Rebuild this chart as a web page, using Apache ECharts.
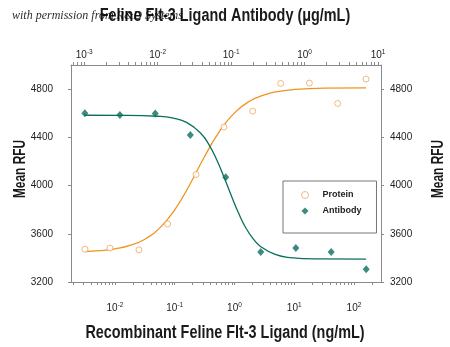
<!DOCTYPE html>
<html><head><meta charset="utf-8">
<script src="https://cdn.jsdelivr.net/npm/echarts@6/dist/echarts.min.js"></script>
<style>html,body{margin:0;padding:0;background:#fff}#c{width:450px;height:347px}</style>
</head><body><div id="c"></div>
<script>
// ---- data ----
const proteinConc = [0.00315, 0.00824, 0.0252, 0.0762, 0.227, 0.667, 2.02, 5.93, 17.9, 53.3, 159]; // ng/mL
const proteinRFU  = [3472, 3481, 3467, 3681, 4092, 4486, 4617, 4847, 4850, 4681, 4883];
const antibodyConc = [0.00102, 0.00306, 0.00927, 0.0278, 0.0844, 0.253, 0.759, 2.30, 6.89]; // µg/mL
const antibodyRFU  = [4600, 4586, 4597, 4419, 4069, 3448, 3483, 3448, 3306];
// fitted curves
const proteinFitConc = [0.00316, 0.00562, 0.01, 0.0178, 0.0316, 0.0562, 0.1, 0.178, 0.316, 0.562, 1, 1.78, 3.16, 5.62, 10, 31.6, 159];
const proteinFitRFU  = [3453, 3460, 3475, 3503, 3555, 3649, 3799, 4007, 4241, 4450, 4603, 4699, 4753, 4782, 4797, 4808, 4811];
const antibodyFitConc = [0.001, 0.00316, 0.01, 0.0158, 0.0251, 0.0398, 0.0501, 0.0631, 0.0794, 0.1, 0.126, 0.158, 0.2, 0.251, 0.398, 0.631, 1.585, 6.89];
const antibodyFitRFU  = [4583, 4582, 4575, 4561, 4522, 4424, 4337, 4219, 4075, 3919, 3772, 3650, 3558, 3495, 3429, 3403, 3391, 3389];
const yTickLabels = [3200, 3600, 4000, 4400, 4800];
const bottomDecades = [-2, -1, 0, 1, 2];
const topDecades = [-3, -2, -1, 0, 1];
const seriesNames = ['Protein', 'Antibody'];
const titleTop = 'Feline Flt-3 Ligand Antibody (μg/mL)';
const titleBottom = 'Recombinant Feline Flt-3 Ligand (ng/mL)';
const titleY = 'Mean RFU';
const credit = 'with permission from R&D Systems';

// ---- chart ----
const FONT = '"Liberation Sans",Arial,sans-serif';
const AXC = '#8a8a8a';
const ORANGE_LINE = '#EE9420';
const ORANGE_PT = '#F0A860';
const TEAL = '#0B6E5F';
const bottomRange = [-2.736, 2.452];
const topRange = [-3.18, 1.04];

function minorTicks(r) {
  const out = [];
  for (let n = Math.floor(r[0]); n <= Math.ceil(r[1]); n++) {
    for (let k = 1; k <= 9; k++) {
      const v = n + Math.log10(k);
      if (v >= r[0] && v <= r[1]) out.push(v);
    }
  }
  return out;
}
const pairs = (xs, ys) => xs.map((x, i) => [Math.log10(x), ys[i]]);

function xAxisCfg(range, decades, position, margin) {
  return {
    type: 'value', position: position, min: range[0], max: range[1],
    splitLine: { show: false },
    axisLine: { onZero: false, lineStyle: { color: AXC, width: 1 } },
    axisTick: { customValues: minorTicks(range), length: 3, inside: false, lineStyle: { color: AXC } },
    axisLabel: {
      customValues: decades, margin: margin, color: '#222',
      formatter: v => '{b|10}{s|' + Math.round(v) + '}',
      rich: {
        b: { fontFamily: FONT, fontSize: 10, color: '#222', lineHeight: 12 },
        s: { fontFamily: FONT, fontSize: 6.5, color: '#222', verticalAlign: 'top', lineHeight: 12, padding: [0, 0, 6, 0] }
      }
    }
  };
}
function yAxisCfg(position, margin) {
  return {
    type: 'value', position: position, min: 3200, max: 5000, interval: 400,
    splitLine: { show: false },
    axisLine: { show: true, onZero: false, lineStyle: { color: AXC, width: 1 } },
    axisTick: { show: true, customValues: yTickLabels, length: 3, lineStyle: { color: AXC } },
    axisLabel: { customValues: yTickLabels, margin: margin, fontFamily: FONT, fontSize: 10, color: '#222',
      formatter: v => String(v) }
  };
}

const chart = echarts.init(document.getElementById('c'), null, { renderer: 'canvas' });
chart.setOption({
  animation: false,
  backgroundColor: '#fff',
  grid: { left: 71, right: 69, top: 65, bottom: 65, containLabel: false },
  xAxis: [xAxisCfg(bottomRange, bottomDecades, 'bottom', 20), xAxisCfg(topRange, topDecades, 'top', 4)],
  yAxis: [yAxisCfg('left', 18), yAxisCfg('right', 9)],
  legend: {
    data: [
      { name: seriesNames[0], icon: 'circle', itemStyle: { color: '#fff', borderColor: ORANGE_PT, borderWidth: 1 } },
      { name: seriesNames[1], icon: 'diamond' }
    ],
    orient: 'vertical', left: 283, top: 181,
    padding: [8, 15, 16, 18], itemGap: 4, itemWidth: 7, itemHeight: 7,
    borderColor: '#777', borderWidth: 1, borderRadius: 0,
    textStyle: { fontFamily: FONT, fontSize: 9, lineHeight: 12, color: '#222', fontWeight: 'bold', padding: [0, 0, 0, 9] }
  },
  graphic: [
    { type: 'text', x: 225, y: 16, scaleX: 0.8, style: { text: titleTop, font: 'bold 18px ' + FONT, fill: '#1a1a1a', align: 'center', verticalAlign: 'middle' } },
    { type: 'text', x: 225, y: 333, scaleX: 0.8, style: { text: titleBottom, font: 'bold 18px ' + FONT, fill: '#1a1a1a', align: 'center', verticalAlign: 'middle' } },
    { type: 'text', x: 20, y: 169, rotation: Math.PI / 2, scaleX: 0.7, style: { text: titleY, font: 'bold 17px ' + FONT, fill: '#1a1a1a', align: 'center', verticalAlign: 'middle' } },
    { type: 'text', x: 438, y: 169, rotation: Math.PI / 2, scaleX: 0.7, style: { text: titleY, font: 'bold 17px ' + FONT, fill: '#1a1a1a', align: 'center', verticalAlign: 'middle' } },
    { type: 'text', x: 12, y: 16, z: 100, style: { text: credit, font: 'italic 12px "Liberation Serif","DejaVu Serif",serif', fill: 'rgba(0,0,0,0.85)', align: 'left', verticalAlign: 'middle' } }
  ],
  series: [
    { name: 'Protein fit', type: 'line', xAxisIndex: 0, yAxisIndex: 0, data: pairs(proteinFitConc, proteinFitRFU),
      smooth: true, showSymbol: false, lineStyle: { color: ORANGE_LINE, width: 1.3 }, z: 2 },
    { name: 'Antibody fit', type: 'line', xAxisIndex: 1, yAxisIndex: 0, data: pairs(antibodyFitConc, antibodyFitRFU),
      smooth: true, showSymbol: false, lineStyle: { color: TEAL, width: 1.3 }, z: 2 },
    { name: 'Protein', type: 'scatter', xAxisIndex: 0, yAxisIndex: 0, data: pairs(proteinConc, proteinRFU),
      symbol: 'circle', symbolSize: 6, itemStyle: { color: '#fff', borderColor: ORANGE_PT, borderWidth: 1 }, z: 3 },
    { name: 'Antibody', type: 'scatter', xAxisIndex: 1, yAxisIndex: 0, data: pairs(antibodyConc, antibodyRFU),
      symbol: 'diamond', symbolSize: [7, 8], itemStyle: { color: TEAL }, z: 3 }
  ]
});
</script></body></html>
